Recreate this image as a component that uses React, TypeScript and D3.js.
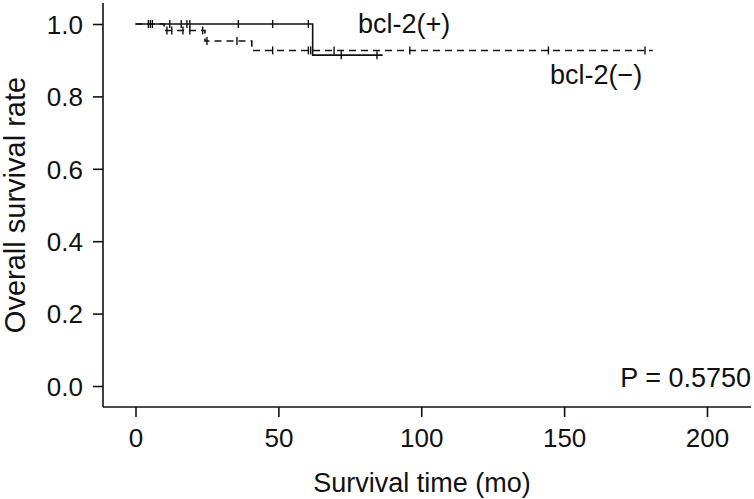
import React, { useEffect, useRef } from 'react';
import * as d3 from 'd3';

// bcl-2(+) curve (solid): step times and survival, plus censored times
const posTimes = [0, 62, 86.5];
const posSurv = [1.0, 0.914, 0.914];
const posCensor = [4.5, 5.2, 5.9, 12, 16, 18, 19, 36, 48, 60.5, 72, 84.5];

// bcl-2(-) curve (dashed)
const negTimes = [0, 10, 24.3, 40.7, 181];
const negSurv = [1.0, 0.982, 0.953, 0.927, 0.927];
const negCensor = [11, 12.7, 16.6, 19, 23.5, 25, 35.5, 48, 60.5, 61.3, 69.5, 96, 144.5, 178.3];

const xTicks = [0, 50, 100, 150, 200];
const yTicks = [0, 0.2, 0.4, 0.6, 0.8, 1.0];

const labelPos = 'bcl-2(+)';
const labelNeg = 'bcl-2(\u2212)';
const pLabel = 'P = 0.5750';
const xTitle = 'Survival time (mo)';
const yTitle = 'Overall survival rate';

const W = 754;
const H = 499;
const FONT = '"Liberation Sans", Arial, Helvetica, sans-serif';

function survAt(times: number[], surv: number[], t: number) {
  const i = d3.bisectRight(times, t) - 1;
  return surv[Math.max(0, i)];
}

export default function App() {
  const ref = useRef<SVGSVGElement>(null);

  useEffect(() => {
    const svg = d3.select(ref.current);
    svg.selectAll('*').remove();

    const x = d3.scaleLinear().domain([0, 200]).range([135.5, 707]);
    const y = d3.scaleLinear().domain([0, 1]).range([386, 24]);

    // axis lines (frame is open, lines run past the ticks)
    const axisX = 103;
    const axisY = 407;
    svg.append('line')
      .attr('x1', axisX).attr('x2', axisX)
      .attr('y1', 3).attr('y2', axisY)
      .attr('stroke', '#111').attr('stroke-width', 1.6);
    svg.append('line')
      .attr('x1', axisX).attr('x2', 751)
      .attr('y1', axisY).attr('y2', axisY)
      .attr('stroke', '#111').attr('stroke-width', 1.6);

    const yAxis = d3.axisLeft(y)
      .tickValues(yTicks)
      .tickSize(10)
      .tickPadding(10)
      .tickFormat(d3.format('.1f'));
    const gy = svg.append('g')
      .attr('transform', 'translate(' + axisX + ',0)')
      .call(yAxis);
    gy.select('.domain').remove();
    gy.selectAll('line').attr('stroke', '#111').attr('stroke-width', 1.6);
    gy.selectAll('text')
      .attr('font-family', FONT).attr('font-size', 26).attr('fill', '#111')
      .attr('dy', '0.36em');

    const xAxis = d3.axisBottom(x)
      .tickValues(xTicks)
      .tickSize(10)
      .tickPadding(12)
      .tickFormat(d3.format('d'));
    const gx = svg.append('g')
      .attr('transform', 'translate(0,' + axisY + ')')
      .call(xAxis);
    gx.select('.domain').remove();
    gx.selectAll('line').attr('stroke', '#111').attr('stroke-width', 1.6);
    gx.selectAll('text')
      .attr('font-family', FONT).attr('font-size', 26).attr('fill', '#111');

    const line = d3.line<[number, number]>()
      .x(d => x(d[0]))
      .y(d => y(d[1]))
      .curve(d3.curveStepAfter);

    const curves = [
      { times: posTimes, surv: posSurv, censor: posCensor, dash: null },
      { times: negTimes, surv: negSurv, censor: negCensor, dash: '7,5' },
    ];

    curves.forEach(c => {
      const pts = c.times.map((t, i) => [t, c.surv[i]] as [number, number]);
      svg.append('path')
        .attr('d', line(pts))
        .attr('fill', 'none')
        .attr('stroke', '#111')
        .attr('stroke-width', 1.6)
        .attr('stroke-dasharray', c.dash);

      svg.selectAll(null)
        .data(c.censor)
        .enter().append('line')
        .attr('x1', d => x(d)).attr('x2', d => x(d))
        .attr('y1', d => y(survAt(c.times, c.surv, d)) - 4)
        .attr('y2', d => y(survAt(c.times, c.surv, d)) + 4)
        .attr('stroke', '#111')
        .attr('stroke-width', 1.4);
    });

    const txt = (s: string, tx: number, ty: number, anchor: string, size: number) =>
      svg.append('text')
        .attr('x', tx).attr('y', ty)
        .attr('text-anchor', anchor)
        .attr('font-family', FONT)
        .attr('font-size', size)
        .attr('fill', '#111')
        .text(s);

    txt(labelPos, 358, 33, 'start', 27);
    txt(labelNeg, 550, 84, 'start', 27);
    txt(pLabel, 751, 387, 'end', 27);
    txt(xTitle, 422, 492, 'middle', 27);

    // y axis title
    svg.append('text')
      .attr('transform', 'translate(25,205) rotate(-90)')
      .attr('text-anchor', 'middle')
      .attr('font-family', FONT)
      .attr('font-size', 29)
      .attr('fill', '#111')
      .text(yTitle);
  }, []);

  return (
    <svg
      ref={ref}
      width={W}
      height={H}
      style={{ position: 'absolute', left: 0, top: 0, background: '#fff' }}
    />
  );
}
